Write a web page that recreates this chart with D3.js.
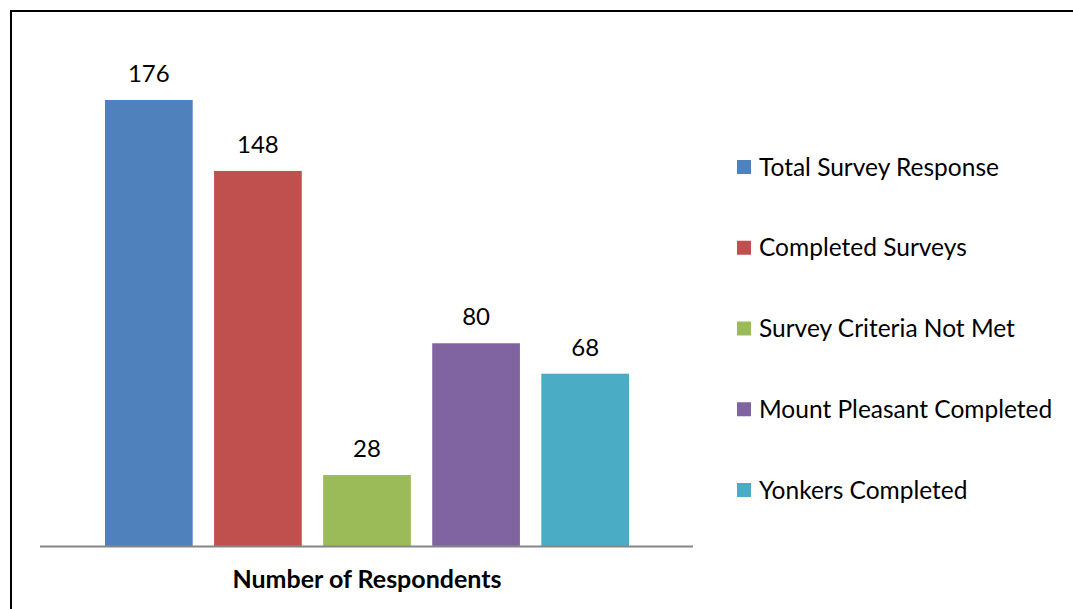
<!DOCTYPE html>
<html>
<head>
<meta charset="utf-8">
<script src="https://cdn.jsdelivr.net/npm/d3@7"></script>
<style>
  html, body { margin: 0; padding: 0; background: #fff; }
  svg { display: block; }
  text { font-family: Lato, "Open Sans", sans-serif; fill: #000; }
</style>
</head>
<body>
<svg id="chart" width="1073" height="609"></svg>
<script>
const seriesNames = ["Total Survey Response", "Completed Surveys", "Survey Criteria Not Met", "Mount Pleasant Completed", "Yonkers Completed"];
const seriesValues = [176, 148, 28, 80, 68];
const seriesColors = ["#4F81BD", "#C0504D", "#9BBB59", "#8064A2", "#4BACC6"];
const categoryLabel = "Number of Respondents";

const svg = d3.select("#chart");
const W = 1073, H = 609;

// outer frame (top and left edges visible)
svg.append("line").attr("x1", 11).attr("x2", W).attr("y1", 11).attr("y2", 11)
  .attr("stroke", "#000").attr("stroke-width", 2);
svg.append("line").attr("x1", 11).attr("x2", 11).attr("y1", 10).attr("y2", H)
  .attr("stroke", "#000").attr("stroke-width", 2);

const baseY = 546;
const y = d3.scaleLinear().domain([0, 176]).range([baseY, 100]);
const x = d3.scaleBand().domain(seriesNames).range([105, 629]).paddingInner(0.196).paddingOuter(0);

const data = seriesNames.map((n, i) => ({ name: n, value: seriesValues[i], color: seriesColors[i] }));

svg.append("g").selectAll("rect").data(data).join("rect")
  .attr("x", d => x(d.name))
  .attr("y", d => y(d.value))
  .attr("width", x.bandwidth())
  .attr("height", d => baseY - y(d.value))
  .attr("fill", d => d.color);

svg.append("g").selectAll("text").data(data).join("text")
  .attr("x", d => x(d.name) + x.bandwidth() / 2)
  .attr("y", d => y(d.value) - 18)
  .attr("text-anchor", "middle")
  .style("font-size", "24px")
  .text(d => d.value);

// category axis line
svg.append("line").attr("x1", 40).attr("x2", 693).attr("y1", baseY + 0.5).attr("y2", baseY + 0.5)
  .attr("stroke", "#868686").attr("stroke-width", 2);

svg.append("text")
  .attr("x", 367).attr("y", 588)
  .attr("text-anchor", "middle")
  .style("font-size", "25px").style("font-weight", "bold")
  .text(categoryLabel);

// legend
const legY = d3.scalePoint().domain(seriesNames).range([167, 490]);
const leg = svg.append("g").selectAll("g").data(data).join("g")
  .attr("transform", d => `translate(737,${legY(d.name)})`);
leg.append("rect").attr("x", 0).attr("y", -7).attr("width", 14).attr("height", 14)
  .attr("fill", d => d.color);
leg.append("text").attr("x", 22).attr("y", 8.5)
  .style("font-size", "24.5px")
  .text(d => d.name);
</script>
</body>
</html>
